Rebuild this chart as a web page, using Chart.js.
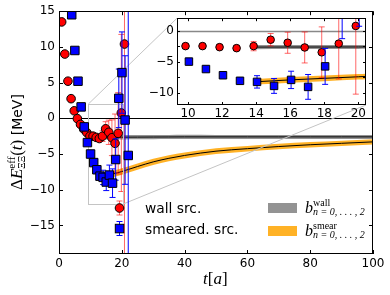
<!DOCTYPE html>
<html>
<head>
<meta charset="utf-8">
<script src="https://cdn.jsdelivr.net/npm/chart.js@4.4.1/dist/chart.umd.min.js"></script>
<style>
  body { margin: 0; background: #fff; }
  #box { position: relative; width: 390px; height: 295px; }
  canvas { position: absolute; }
</style>
</head>
<body>
<div id="box">
  <canvas id="myChart" width="390" height="295" style="left:0;top:0"></canvas>
  <canvas id="insetChart" width="235" height="120" style="left:140px;top:8px"></canvas>
</div>
<script>
// values
var wallT = [1, 2, 3, 4, 5, 6, 7, 8, 9, 10, 11, 12, 13, 14, 15, 16, 17, 18, 19, 20, 21];
var wallE = [13.5, 9.0, 5.2, 2.75, 1.05, -0.05, -0.85, -1.5, -2.0, -2.5, -2.5, -2.67, -2.83, -2.5, -1.47, -1.96, -2.72, -3.5, -2.1, 0.75, 10.4];
var wallErr = [0.1, 0.1, 0.1, 0.1, 0.1, 0.1, 0.12, 0.15, 0.15, 0.2, 0.25, 0.3, 0.35, 0.75, 1.0, 1.7, 2.5, 4.1, 5.7, 11, 45];
var smearT = [4, 5, 6, 7, 8, 9, 10, 11, 12, 13, 14, 15, 16, 17, 18, 19, 20, 21, 22];
var smearE = [14.5, 9.5, 5.2, 1.6, -1.2, -3.4, -5.0, -6.2, -7.2, -8.1, -8.27, -8.92, -7.95, -9.08, -5.77, 2.8, 6.4, -0.24, -5.2];
var smearErr = [0.1, 0.1, 0.1, 0.12, 0.15, 0.15, 0.2, 0.2, 0.25, 0.35, 1.0, 1.2, 1.4, 2.0, 2.9, 4.1, 5.7, 9.0, 45];

var fitT = [14, 16, 18, 20, 25, 30, 35, 40, 50, 60, 70, 80, 90, 100];
var wallFit = [-2.66, -2.65, -2.65, -2.64, -2.63, -2.62, -2.61, -2.6, -2.6, -2.6, -2.6, -2.6, -2.6, -2.6];
var wallBand = [0.35, 0.33, 0.32, 0.31, 0.3, 0.3, 0.29, 0.29, 0.28, 0.28, 0.28, 0.28, 0.28, 0.28];
var smearFit = [-8.25, -7.95, -7.7, -7.45, -6.75, -6.1, -5.6, -5.2, -4.6, -4.25, -3.95, -3.7, -3.5, -3.3];
var smearBand = [0.45, 0.45, 0.45, 0.45, 0.44, 0.43, 0.42, 0.41, 0.4, 0.39, 0.38, 0.38, 0.37, 0.37];

var xTicks = [0, 20, 40, 60, 80, 100];
var yTicks = [-15, -10, -5, 0, 5, 10, 15];
var insetXTicks = [10, 12, 14, 16, 18, 20];
var insetYTicks = [-10, -7.5, -5, -2.5, 0];
var xRange = [0, 100];
var yRange = [-19, 15];
var insetXRange = [9.35, 20.45];
var insetYRange = [-12, 2];

var wallShift = -0.15;
var smearShift = 0.05;

function pts(t, v, shift, w, sign) {
  return t.map(function (x, i) {
    return { x: x + (shift || 0), y: v[i] + (w ? sign * w[i] : 0) };
  });
}

function fmt(v) {
  return String(v).replace('-', '\u2212');
}

function makeDatasets(small) {
  return [
    { data: pts(wallT, wallE, wallShift), errs: wallErr, errColor: 'rgba(255,0,0,0.6)', showLine: false,
      pointStyle: 'circle', pointRadius: small ? 3.8 : 4.3, backgroundColor: '#ff0000',
      borderColor: '#000', pointBorderColor: '#000', pointBorderWidth: 1, order: 1 },
    { data: pts(smearT, smearE, smearShift), errs: smearErr, errColor: '#0000ff', showLine: false,
      pointStyle: 'rect', pointRadius: small ? 5.3 : 6, backgroundColor: '#0000ff',
      borderColor: '#000', pointBorderColor: '#000', pointBorderWidth: 1, order: 0 },
    { data: pts(fitT, wallFit), borderColor: '#000', borderWidth: 1, pointRadius: 0,
      cubicInterpolationMode: 'monotone', order: 5 },
    { data: pts(fitT, wallFit, 0, wallBand, 1), borderWidth: 0, pointRadius: 0, fill: '+1',
      backgroundColor: 'rgba(120,120,120,0.8)', cubicInterpolationMode: 'monotone', order: 6 },
    { data: pts(fitT, wallFit, 0, wallBand, -1), borderWidth: 0, pointRadius: 0,
      cubicInterpolationMode: 'monotone', order: 7 },
    { data: pts(fitT, smearFit), borderColor: '#000', borderWidth: 1, pointRadius: 0,
      cubicInterpolationMode: 'monotone', order: 2 },
    { data: pts(fitT, smearFit, 0, smearBand, 1), borderWidth: 0, pointRadius: 0, fill: '+1',
      backgroundColor: 'rgba(255,165,0,0.85)', cubicInterpolationMode: 'monotone', order: 3 },
    { data: pts(fitT, smearFit, 0, smearBand, -1), borderWidth: 0, pointRadius: 0,
      cubicInterpolationMode: 'monotone', order: 4 }
  ];
}

var errorBars = {
  id: 'errorBars',
  beforeDatasetDraw: function (chart, args) {
    var ds = chart.data.datasets[args.index];
    if (!ds.errs) return;
    var ctx = chart.ctx, a = chart.chartArea, xs = chart.scales.x, ys = chart.scales.y;
    ctx.save();
    ctx.beginPath();
    ctx.rect(a.left, a.top, a.right - a.left, a.bottom - a.top);
    ctx.clip();
    ctx.strokeStyle = ds.errColor;
    ctx.lineWidth = 1;
    ds.data.forEach(function (p, i) {
      var px = xs.getPixelForValue(p.x);
      var y1 = ys.getPixelForValue(p.y - ds.errs[i]);
      var y2 = ys.getPixelForValue(p.y + ds.errs[i]);
      ctx.beginPath();
      ctx.moveTo(px, y1); ctx.lineTo(px, y2);
      ctx.moveTo(px - 3, y1); ctx.lineTo(px + 3, y1);
      ctx.moveTo(px - 3, y2); ctx.lineTo(px + 3, y2);
      ctx.stroke();
    });
    ctx.restore();
  }
};

function frame(chart, len) {
  var ctx = chart.ctx, a = chart.chartArea, xs = chart.scales.x, ys = chart.scales.y;
  ctx.save();
  ctx.strokeStyle = '#000';
  ctx.lineWidth = 1;
  ctx.beginPath();
  xs.ticks.forEach(function (t) {
    var px = Math.round(xs.getPixelForValue(t.value)) + 0.5;
    ctx.moveTo(px, a.bottom); ctx.lineTo(px, a.bottom - len);
    ctx.moveTo(px, a.top); ctx.lineTo(px, a.top + len);
  });
  ys.ticks.forEach(function (t) {
    var py = Math.round(ys.getPixelForValue(t.value)) + 0.5;
    ctx.moveTo(a.left, py); ctx.lineTo(a.left + len, py);
    ctx.moveTo(a.right, py); ctx.lineTo(a.right - len, py);
  });
  ctx.stroke();
  ctx.strokeRect(Math.round(a.left) + 0.5, Math.round(a.top) + 0.5,
    Math.round(a.right - a.left) - 1, Math.round(a.bottom - a.top) - 1);
  ctx.restore();
}

function hline(chart, v, color, width) {
  var ctx = chart.ctx, a = chart.chartArea;
  var py = Math.round(chart.scales.y.getPixelForValue(v)) + 0.5;
  ctx.save();
  ctx.strokeStyle = color;
  ctx.lineWidth = width;
  ctx.beginPath();
  ctx.moveTo(a.left, py); ctx.lineTo(a.right, py);
  ctx.stroke();
  ctx.restore();
}

function runText(ctx, parts, x, y) {
  parts.forEach(function (p) {
    ctx.font = p[1];
    ctx.fillText(p[0], x, y + p[2]);
    if (!p[3]) x += ctx.measureText(p[0]).width;
  });
  return x;
}

var serif = '"Liberation Serif"';

// inset
var insetChart = new Chart("insetChart", {
  type: "line",
  data: { datasets: makeDatasets(true) },
  options: {
    responsive: false,
    animation: false,
    events: [],
    layout: { padding: { top: 10, right: 9, left: 0, bottom: 0 } },
    plugins: { legend: { display: false }, tooltip: { enabled: false } },
    scales: {
      x: {
        type: 'linear', min: insetXRange[0], max: insetXRange[1],
        grid: { display: false, drawTicks: false }, border: { display: false },
        afterBuildTicks: function (s) { s.ticks = insetXTicks.map(function (v) { return { value: v }; }); },
        afterFit: function (s) { s.height = 23; },
        ticks: { font: { family: 'DejaVu Sans', size: 12 }, color: '#000', padding: 2, maxRotation: 0, autoSkip: false, callback: fmt }
      },
      y: {
        min: insetYRange[0], max: insetYRange[1],
        grid: { display: false, drawTicks: false }, border: { display: false },
        afterBuildTicks: function (s) { s.ticks = insetYTicks.map(function (v) { return { value: v }; }); },
        afterFit: function (s) { s.width = 37; },
        ticks: { font: { family: 'DejaVu Sans', size: 12 }, color: '#000', padding: 3, autoSkip: false,
          callback: function (v) { return v % 5 === 0 ? fmt(v) : ''; } }
      }
    }
  },
  plugins: [errorBars, {
    id: 'insetDeco',
    beforeDraw: function (chart) {
      var a = chart.chartArea;
      chart.ctx.fillStyle = '#fff';
      chart.ctx.fillRect(a.left, a.top, a.right - a.left, a.bottom - a.top);
    },
    beforeDatasetsDraw: function (chart) { hline(chart, 0, '#888', 1.5); },
    afterDraw: function (chart) { frame(chart, 3); }
  }]
});

// main plot
var mainChart = new Chart("myChart", {
  type: "line",
  data: { datasets: makeDatasets(false) },
  options: {
    responsive: false,
    animation: false,
    events: [],
    layout: { padding: { top: 11, right: 17, left: 0, bottom: 0 } },
    plugins: { legend: { display: false }, tooltip: { enabled: false } },
    scales: {
      x: {
        type: 'linear', min: xRange[0], max: xRange[1],
        grid: { display: false, drawTicks: false }, border: { display: false },
        afterBuildTicks: function (s) { s.ticks = xTicks.map(function (v) { return { value: v }; }); },
        afterFit: function (s) { s.height = 41; },
        ticks: { font: { family: 'DejaVu Sans', size: 12 }, color: '#000', padding: 3, maxRotation: 0, autoSkip: false, callback: fmt }
      },
      y: {
        min: yRange[0], max: yRange[1],
        grid: { display: false, drawTicks: false }, border: { display: false },
        afterBuildTicks: function (s) { s.ticks = yTicks.map(function (v) { return { value: v }; }); },
        afterFit: function (s) { s.width = 59; },
        ticks: { font: { family: 'DejaVu Sans', size: 12 }, color: '#000', padding: 4, autoSkip: false, callback: fmt }
      }
    }
  },
  plugins: [errorBars, {
    id: 'mainDeco',
    beforeDatasetsDraw: function (chart) { hline(chart, 0, '#000', 1); },
    beforeDatasetDraw: function (chart, args) {
      if (args.index !== 0) return;
      // zoom box and connectors to the inset
      var ctx = chart.ctx, xs = chart.scales.x, ys = chart.scales.y;
      var x0 = xs.getPixelForValue(insetXRange[0]), x1 = xs.getPixelForValue(insetXRange[1]);
      var y0 = ys.getPixelForValue(insetYRange[1]), y1 = ys.getPixelForValue(insetYRange[0]);
      var ia = insetChart.chartArea, ox = 140, oy = 8;
      ctx.save();
      ctx.strokeStyle = '#c4c4c4';
      ctx.lineWidth = 1;
      ctx.strokeRect(Math.round(x0) + 0.5, Math.round(y0) + 0.5, Math.round(x1 - x0), Math.round(y1 - y0));
      ctx.beginPath();
      ctx.moveTo(x0, y0); ctx.lineTo(ia.left + ox, ia.top + oy);
      ctx.moveTo(x1, y1); ctx.lineTo(ia.right + ox, ia.bottom + oy);
      ctx.stroke();
      ctx.restore();
    },
    afterDraw: function (chart) {
      var ctx = chart.ctx;
      frame(chart, 4);
      ctx.save();
      ctx.fillStyle = '#000';
      ctx.textBaseline = 'alphabetic';

      // legend: markers with error bars
      ctx.lineWidth = 1;
      ctx.strokeStyle = 'rgba(255,0,0,0.6)';
      ctx.beginPath();
      ctx.moveTo(119.5, 201); ctx.lineTo(119.5, 215);
      ctx.moveTo(116.5, 201); ctx.lineTo(122.5, 201);
      ctx.moveTo(116.5, 215); ctx.lineTo(122.5, 215);
      ctx.stroke();
      ctx.fillStyle = '#ff0000';
      ctx.strokeStyle = '#000';
      ctx.beginPath(); ctx.arc(119.5, 208, 4.3, 0, Math.PI * 2); ctx.fill(); ctx.stroke();
      ctx.strokeStyle = '#0000ff';
      ctx.beginPath();
      ctx.moveTo(119.5, 221.5); ctx.lineTo(119.5, 235.5);
      ctx.moveTo(116.5, 221.5); ctx.lineTo(122.5, 221.5);
      ctx.moveTo(116.5, 235.5); ctx.lineTo(122.5, 235.5);
      ctx.stroke();
      ctx.fillStyle = '#0000ff';
      ctx.strokeStyle = '#000';
      ctx.fillRect(115.3, 224.3, 8.5, 8.5); ctx.strokeRect(115.3, 224.3, 8.5, 8.5);

      ctx.fillStyle = '#000';
      ctx.font = '13.8px "DejaVu Sans"';
      ctx.fillText('wall src.', 145, 213);
      ctx.fillText('smeared. src.', 145, 234);

      // legend: fit bands
      ctx.fillStyle = 'rgba(120,120,120,0.8)';
      ctx.fillRect(268, 203, 29, 10);
      ctx.fillStyle = 'rgba(255,165,0,0.85)';
      ctx.fillRect(268, 226, 29, 10);
      ctx.fillStyle = '#000';
      runText(ctx, [['b', 'italic 16px ' + serif, 0], ['wall', '10px ' + serif, -7, true], ['n = 0, . . . , 2', 'italic 10px ' + serif, 2]], 305, 213);
      runText(ctx, [['b', 'italic 16px ' + serif, 0], ['smear', '10px ' + serif, -7, true], ['n = 0, . . . , 2', 'italic 10px ' + serif, 2]], 305, 236);

      // x axis title
      ctx.textAlign = 'left';
      runText(ctx, [['t', 'italic 17px ' + serif, 0], ['[', '17px ' + serif, 0], ['a', 'italic 17px ' + serif, 0], [']', '17px ' + serif, 0]], 203, 284);

      // y axis title
      ctx.translate(22, 190);
      ctx.rotate(-Math.PI / 2);
      runText(ctx, [
        ['\u0394', '17px ' + serif, 0],
        ['E', 'italic 17px ' + serif, 0],
        ['eff', '11px ' + serif, -7, true],
        ['\u039e\u039e', '10px ' + serif, 3],
        ['(', '17px ' + serif, 0],
        ['t', 'italic 17px ' + serif, 0],
        [')', '17px ' + serif, 0],
        [' [MeV]', '14px "DejaVu Sans"', 0]
      ], 0, 0);
      ctx.restore();
    }
  }]
});
</script>
</body>
</html>
